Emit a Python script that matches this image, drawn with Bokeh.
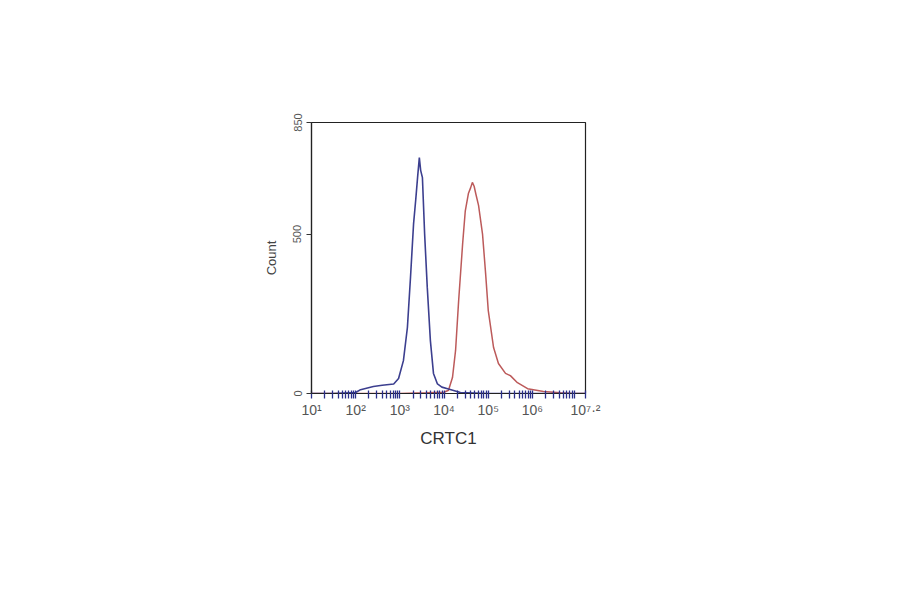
from bokeh.plotting import figure
from bokeh.models import FixedTicker, CustomJSTickFormatter, Range1d
from bokeh.embed import file_html
from bokeh.resources import INLINE

# ---- data (x as log10 of CRTC1 fluorescence, y = count) ----
blue_log = [1.00, 1.50, 2.00, 2.11, 2.40, 2.60, 2.86, 2.97, 3.08, 3.17, 3.24, 3.31, 3.36,
            3.40, 3.44, 3.47, 3.51, 3.56, 3.62, 3.69, 3.76, 3.85, 3.95, 4.08, 4.37, 5.00, 6.00, 7.20]
blue_count = [0, 0, 3, 12, 22, 26, 30, 47, 103, 207, 364, 533, 610,
              677, 740, 700, 677, 500, 332, 166, 63, 30, 20, 15, 3, 0, 0, 0]

red_log = [1.00, 2.00, 3.00, 3.60, 4.00, 4.10, 4.19, 4.26, 4.33, 4.42, 4.48, 4.55, 4.60,
           4.64, 4.68, 4.72, 4.78, 4.87, 4.94, 5.00, 5.12, 5.23, 5.39, 5.50, 5.66, 5.89,
           6.25, 6.63, 6.93, 7.20]
red_count = [0, 0, 0, 2, 4, 10, 50, 135, 292, 470, 573, 627, 645,
             662, 650, 625, 590, 500, 376, 260, 144, 94, 63, 56, 34, 15,
             6, 2, 0, 0]

x_tick_exps = [1, 2, 3, 4, 5, 6, 7.2]
y_ticks = [0, 500, 850]

blue_x = [10 ** e for e in blue_log]
red_x = [10 ** e for e in red_log]
major_x = [10 ** e for e in x_tick_exps]
minor_x = [m * 10 ** d for d in range(1, 7) for m in range(2, 10) if m * 10 ** d < 10 ** 7.2]

W, H = 884, 578
p = figure(width=W, height=H, x_axis_type="log",
           x_range=Range1d(10, 10 ** 7.2), y_range=Range1d(0, 850),
           output_backend="svg", toolbar_location=None,
           min_border_left=311, min_border_right=299,
           min_border_top=122, min_border_bottom=185)

p.background_fill_color = "white"
p.border_fill_color = "white"
p.outline_line_color = "#222222"
p.outline_line_width = 1.2
p.grid.visible = False

p.line(red_x, red_count, line_color="#b54848", line_width=1.5, line_alpha=0.9)
p.line(blue_x, blue_count, line_color="#3c3f8f", line_width=1.6)

FONT = "Liberation Sans"

xa = p.xaxis[0]
xa.ticker = FixedTicker(ticks=major_x, minor_ticks=minor_x)
xa.formatter = CustomJSTickFormatter(code="""
const e = Math.round(Math.log10(tick) * 10) / 10;
const sup = {'0':'\u2070','1':'\u00b9','2':'\u00b2','3':'\u00b3','4':'\u2074','5':'\u2075',
             '6':'\u2076','7':'\u2077','8':'\u2078','9':'\u2079','.':'\u00b7'};
return '10' + String(e).split('').map(c => sup[c]).join('');
""")
xa.axis_line_color = "#222222"
xa.axis_line_width = 1.2
xa.major_tick_line_color = "#2a2f8a"
xa.major_tick_in = 3
xa.major_tick_out = 5
xa.minor_tick_line_color = "#2a2f8a"
xa.minor_tick_in = 3
xa.minor_tick_out = 5
xa.minor_tick_line_width = 1.3
xa.major_tick_line_width = 1.3
xa.major_label_text_font = FONT
xa.major_label_text_font_size = "14px"
xa.major_label_text_color = "#555555"
xa.major_label_standoff = 3
xa.axis_label = "CRTC1"
xa.axis_label_text_font = FONT
xa.axis_label_text_font_style = "normal"
xa.axis_label_text_font_size = "17px"
xa.axis_label_text_color = "#333333"
xa.axis_label_standoff = 8

ya = p.yaxis[0]
ya.ticker = FixedTicker(ticks=y_ticks, minor_ticks=[])
ya.axis_line_color = "#222222"
ya.axis_line_width = 1.2
ya.major_tick_line_color = "#333333"
ya.major_tick_in = 0
ya.major_tick_out = 5
ya.major_label_orientation = "vertical"
ya.major_label_text_font = FONT
ya.major_label_text_font_size = "11px"
ya.major_label_text_color = "#555555"
ya.major_label_standoff = 5
ya.axis_label = "Count"
ya.axis_label_text_font = FONT
ya.axis_label_text_font_style = "normal"
ya.axis_label_text_font_size = "13px"
ya.axis_label_text_color = "#444444"
ya.axis_label_standoff = 12

open("out.html", "w").write(file_html(p, INLINE))
